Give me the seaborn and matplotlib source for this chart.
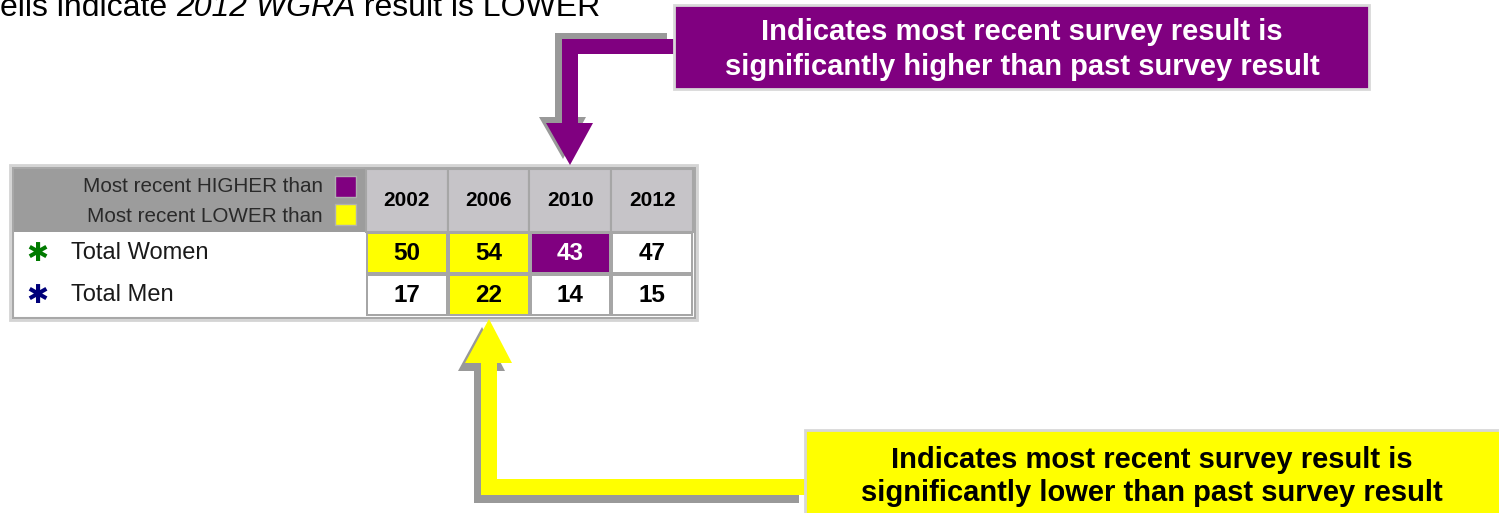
import numpy as np
import pandas as pd
import matplotlib
matplotlib.use("Agg")
import matplotlib.pyplot as plt
import seaborn as sns
from matplotlib.colors import ListedColormap
from matplotlib.patches import Rectangle, Polygon

# Table data
years = ["2002", "2006", "2010", "2012"]
groups = ["Total Women", "Total Men"]
women = [50, 54, 43, 47]
men = [17, 22, 14, 15]
# significance codes: 0 = no difference, 1 = most recent LOWER than, 2 = most recent HIGHER than
women_sig = [1, 1, 2, 0]
men_sig = [0, 1, 0, 0]
group_colors = ["#007a00", "#00007a"]

values_df = pd.DataFrame([women, men], index=groups, columns=years)
sig_df = pd.DataFrame([women_sig, men_sig], index=groups, columns=years)

PURPLE = "#800080"
YELLOW = "#ffff00"
SHADOW = "#999999"
GRID = "#a6a6a6"

sns.set_style("white")
plt.rcParams["font.family"] = ["Liberation Sans", "DejaVu Sans"]

W, H = 1499, 513
fig = plt.figure(figsize=(W / 100, H / 100), dpi=100)

# background axes in pixel coordinates for the callouts / table frame
ax_bg = fig.add_axes([0, 0, 1, 1])
ax_bg.set_xlim(0, W)
ax_bg.set_ylim(H, 0)
ax_bg.axis("off")


def frac(x0, y0, x1, y1):
    return [x0 / W, 1 - y1 / H, (x1 - x0) / W, (y1 - y0) / H]


# table frame
ax_bg.add_patch(Rectangle((10, 165), 687, 155, fc="white", ec="#d4d4d4", lw=2))
ax_bg.add_patch(Rectangle((13, 168), 682, 150, fill=False, ec="#a8a8a8", lw=1.5))

# header row
tab_x0, tab_x1, head_y0, head_y1, tab_y1 = 366, 693, 169, 232, 316
colw = (tab_x1 - tab_x0) / len(years)
ax_bg.add_patch(Rectangle((14, head_y0), tab_x0 - 14, head_y1 - head_y0, fc="#9c9c9c", ec="none"))
for i in range(len(years)):
    ax_bg.add_patch(Rectangle((tab_x0 + i * colw, head_y0), colw, head_y1 - head_y0,
                              fc="#c6c4c8", ec=GRID, lw=1.5))

# legend inside header
ax_bg.text(323, 187, "Most recent HIGHER than", ha="right", va="center", fontsize=14.9, color="#2a2a2a")
ax_bg.text(323, 216, "Most recent LOWER than", ha="right", va="center", fontsize=14.9, color="#2a2a2a")
ax_bg.add_patch(Rectangle((335, 176), 21, 21, fc=PURPLE, ec="#b0b0b0", lw=1))
ax_bg.add_patch(Rectangle((335, 204), 21, 21, fc=YELLOW, ec="#b0b0b0", lw=1))

# heatmap of the data cells
ax_hm = fig.add_axes(frac(tab_x0, head_y1, tab_x1, tab_y1))
sns.heatmap(sig_df, annot=values_df.to_numpy(), fmt="d",
            cmap=ListedColormap(["#ffffff", YELLOW, PURPLE]), vmin=-0.5, vmax=2.5,
            cbar=False, linewidths=1.5, linecolor=GRID,
            annot_kws={"fontsize": 17.5, "fontweight": "bold"}, ax=ax_hm)
for txt, flag in zip(ax_hm.texts, sig_df.to_numpy().ravel()):
    txt.set_color("white" if flag == 2 else "black")

ax_hm.xaxis.tick_top()
ax_hm.set_xticklabels(years, fontsize=15, fontweight="bold", rotation=0, color="black")
for lab in ax_hm.get_xticklabels():
    lab.set_va("center")
ax_hm.tick_params(axis="x", length=0, pad=32 * 0.72)
ax_hm.set_yticklabels(groups, fontsize=17, rotation=0, ha="left", va="center", color="#1a1a1a")
ax_hm.tick_params(axis="y", length=0, pad=(tab_x0 - 71) * 0.72)
ax_hm.set_xlabel("")
ax_hm.set_ylabel("")

rowh = (tab_y1 - head_y1) / len(groups)
for i, c in enumerate(group_colors):
    ax_bg.text(37, head_y1 + (i + 0.5) * rowh + 1, "\u2731", ha="center", va="center",
               fontsize=19, color=c, family="DejaVu Sans")

# purple callout (top)
purple_pts = np.array([(674, 39), (562, 39), (562, 123), (546, 123), (570, 165),
                       (593, 123), (578, 123), (578, 54), (674, 54)], dtype=float)
ax_bg.add_patch(Polygon(purple_pts + [-7, -6], closed=True, fc=SHADOW, ec="none"))
ax_bg.add_patch(Polygon(purple_pts, closed=True, fc=PURPLE, ec="none"))
ax_bg.add_patch(Rectangle((674, 5), 695, 84, fc=PURPLE, ec="#d8d8d8", lw=2))
ax_bg.text(1022, 32, "Indicates most recent survey result is", ha="center", va="center",
           fontsize=21, fontweight="bold", color="white")
ax_bg.text(1022, 67, "significantly higher than past survey result", ha="center", va="center",
           fontsize=21, fontweight="bold", color="white")

# yellow callout (bottom)
yellow_pts = np.array([(489, 319), (512, 363), (497, 363), (497, 479), (806, 479),
                       (806, 495), (481, 495), (481, 363), (465, 363)], dtype=float)
ax_bg.add_patch(Polygon(yellow_pts + [-7, 8], closed=True, fc=SHADOW, ec="none"))
ax_bg.add_patch(Polygon(yellow_pts, closed=True, fc=YELLOW, ec="none"))
ax_bg.add_patch(Rectangle((805, 430), 710, 100, fc=YELLOW, ec="#d8d8d8", lw=2))
ax_bg.text(1152, 460, "Indicates most recent survey result is", ha="center", va="center",
           fontsize=21, fontweight="bold", color="black")
ax_bg.text(1152, 493, "significantly lower than past survey result", ha="center", va="center",
           fontsize=21, fontweight="bold", color="black")

# cut-off note at the top left (mixed regular / italic)
renderer = fig.canvas.get_renderer()
x = 0.0
for part, style in [("ells indicate ", "normal"), ("2012 WGRA", "italic"), (" result is LOWER", "normal")]:
    t = ax_bg.text(x, 16, part, ha="left", va="baseline", fontsize=23, style=style, color="black")
    bb = t.get_window_extent(renderer=renderer)
    x += bb.width

fig.savefig("out.png", dpi=100)
